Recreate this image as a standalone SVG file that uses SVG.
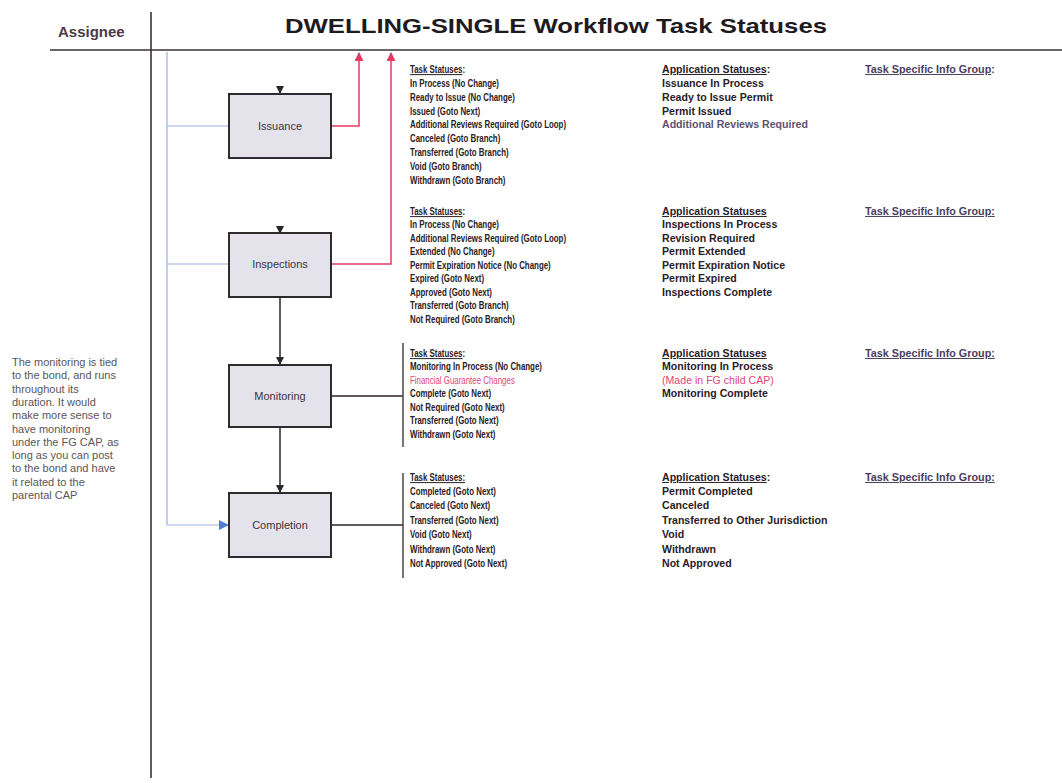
<svg xmlns="http://www.w3.org/2000/svg" width="1062" height="783" viewBox="0 0 1062 783">
<style>
.bg{fill:#ffffff}
.frame{stroke:#3a3236;stroke-width:1.6;fill:none}
.box{fill:#e4e3ec;stroke:#2f2a2e;stroke-width:2}
.blab{font-family:"Liberation Sans",Arial,sans-serif;font-size:11px;fill:#3a3440;text-anchor:middle}
.st{font-family:"Liberation Sans",Arial,sans-serif;font-size:10px;font-weight:bold;fill:#2a2026}
.ap{font-family:"Liberation Sans",Arial,sans-serif;font-size:10px;font-weight:bold;fill:#2a2026}
.hd{text-decoration:underline}
.spec{fill:#4a3e5e}
.pink{fill:#e0457c;font-weight:normal}
.dim{fill:#5e5270}
.note{font-family:"Liberation Sans",Arial,sans-serif;font-size:11px;fill:#5a555a}
.title{font-family:"Liberation Sans",Arial,sans-serif;font-size:21px;font-weight:bold;fill:#1e1a1e}
.asg{font-family:"Liberation Sans",Arial,sans-serif;font-size:15px;font-weight:bold;fill:#4a3a46}
.blk{stroke:#2b2629;stroke-width:1.5;fill:none}
.red{stroke:#e53a5e;stroke-width:1.5;fill:none}
.blue{stroke:#9bb0e0;stroke-width:1.2;fill:none}
.bar{stroke:#4a4448;stroke-width:1.5}
</style>
<defs>
<marker id="ab" markerWidth="8" markerHeight="8" refX="7" refY="4" orient="auto" markerUnits="userSpaceOnUse"><path d="M0,0 L8,4 L0,8 z" fill="#2b2629"/></marker>
<marker id="ar" markerWidth="9" markerHeight="9" refX="8" refY="4.5" orient="auto" markerUnits="userSpaceOnUse"><path d="M0,0 L9,4.5 L0,9 z" fill="#e53a5e"/></marker>
<marker id="au" markerWidth="10" markerHeight="10" refX="9" refY="5" orient="auto" markerUnits="userSpaceOnUse"><path d="M0,0 L10,5 L0,10 z" fill="#4a80d0"/></marker>
</defs>
<rect class="bg" x="0" y="0" width="1062" height="783"/>

<g id="header">
<text class="asg" x="58" y="37">Assignee</text>
<text class="title" x="285" y="33" textLength="542" lengthAdjust="spacingAndGlyphs">DWELLING-SINGLE Workflow Task Statuses</text>
<line class="frame" x1="50" y1="50" x2="1062" y2="50"/>
<line class="frame" x1="151" y1="12" x2="151" y2="778"/>
</g>

<g id="connectors">
<path class="blue" d="M167,52 V525"/>
<path class="blue" d="M167,126 H229"/>
<path class="blue" d="M167,264 H229"/>
<path class="blue" d="M167,525 H228" marker-end="url(#au)"/>
<path class="red" d="M331,126 H359 V53" marker-end="url(#ar)"/>
<path class="red" d="M331,264 H391 V53" marker-end="url(#ar)"/>
<path class="blk" d="M280,86 V93" marker-end="url(#ab)"/>
<path class="blk" d="M280,226 V233" marker-end="url(#ab)"/>
<path class="blk" d="M280,297 V364" marker-end="url(#ab)"/>
<path class="blk" d="M280,427 V492" marker-end="url(#ab)"/>
<path class="blk" d="M331,396 H403"/>
<path class="blk" d="M331,525 H403"/>
<line class="bar" x1="403" y1="343" x2="403" y2="447"/>
<line class="bar" x1="403" y1="473" x2="403" y2="578"/>
</g>

<g id="issuance">
<rect class="box" x="229" y="94" width="102" height="64"/>
<text class="blab" x="280" y="130">Issuance</text>
</g>
<g id="inspections">
<rect class="box" x="229" y="233" width="102" height="64"/>
<text class="blab" x="280" y="268">Inspections</text>
</g>
<g id="monitoring">
<rect class="box" x="229" y="365" width="102" height="62"/>
<text class="blab" x="280" y="400">Monitoring</text>
</g>
<g id="completion">
<rect class="box" x="229" y="493" width="102" height="64"/>
<text class="blab" x="280" y="529">Completion</text>
</g>

<g id="issuance-statuses">
<g transform="translate(410,0) scale(0.79,1)">
<text class="st" x="0" y="73"><tspan class="hd">Task Statuses</tspan>:</text>
<text class="st" x="0" y="87">In Process (No Change)</text>
<text class="st" x="0" y="100.8">Ready to Issue (No Change)</text>
<text class="st" x="0" y="114.6">Issued (Goto Next)</text>
<text class="st" x="0" y="128.4">Additional Reviews Required (Goto Loop)</text>
<text class="st" x="0" y="142.2">Canceled (Goto Branch)</text>
<text class="st" x="0" y="156">Transferred (Goto Branch)</text>
<text class="st" x="0" y="169.8">Void (Goto Branch)</text>
<text class="st" x="0" y="183.6">Withdrawn (Goto Branch)</text>
</g>
<g transform="translate(662,0) scale(1.06,1)">
<text class="ap" x="0" y="73"><tspan class="hd">Application Statuses</tspan>:</text>
<text class="ap" x="0" y="87">Issuance In Process</text>
<text class="ap" x="0" y="100.8">Ready to Issue Permit</text>
<text class="ap" x="0" y="114.6">Permit Issued</text>
<text class="ap dim" x="0" y="128.4">Additional Reviews Required</text>
</g>
<g transform="translate(865,0) scale(1.08,1)">
<text class="ap spec" x="0" y="73"><tspan class="hd">Task Specific Info Group</tspan>:</text>
</g>
</g>

<g id="inspections-statuses">
<g transform="translate(410,0) scale(0.79,1)">
<text class="st" x="0" y="215"><tspan class="hd">Task Statuses</tspan>:</text>
<text class="st" x="0" y="228.5">In Process (No Change)</text>
<text class="st" x="0" y="242">Additional Reviews Required (Goto Loop)</text>
<text class="st" x="0" y="255.5">Extended (No Change)</text>
<text class="st" x="0" y="269">Permit Expiration Notice (No Change)</text>
<text class="st" x="0" y="282.5">Expired (Goto Next)</text>
<text class="st" x="0" y="296">Approved (Goto Next)</text>
<text class="st" x="0" y="309.5">Transferred (Goto Branch)</text>
<text class="st" x="0" y="323">Not Required (Goto Branch)</text>
</g>
<g transform="translate(662,0) scale(1.06,1)">
<text class="ap" x="0" y="215"><tspan class="hd">Application Statuses</tspan></text>
<text class="ap" x="0" y="228.5">Inspections In Process</text>
<text class="ap" x="0" y="242">Revision Required</text>
<text class="ap" x="0" y="255.5">Permit Extended</text>
<text class="ap" x="0" y="269">Permit Expiration Notice</text>
<text class="ap" x="0" y="282.5">Permit Expired</text>
<text class="ap" x="0" y="296">Inspections Complete</text>
</g>
<g transform="translate(865,0) scale(1.08,1)">
<text class="ap spec" x="0" y="215"><tspan class="hd">Task Specific Info Group:</tspan></text>
</g>
</g>

<g id="monitoring-statuses">
<g transform="translate(410,0) scale(0.79,1)">
<text class="st" x="0" y="357"><tspan class="hd">Task Statuses</tspan>:</text>
<text class="st" x="0" y="370.5">Monitoring In Process (No Change)</text>
<text class="st pink" x="0" y="384">Financial Guarantee Changes</text>
<text class="st" x="0" y="397.5">Complete (Goto Next)</text>
<text class="st" x="0" y="411">Not Required (Goto Next)</text>
<text class="st" x="0" y="424.5">Transferred (Goto Next)</text>
<text class="st" x="0" y="438">Withdrawn (Goto Next)</text>
</g>
<g transform="translate(662,0) scale(1.06,1)">
<text class="ap" x="0" y="357"><tspan class="hd">Application Statuses</tspan></text>
<text class="ap" x="0" y="370.5">Monitoring In Process</text>
<text class="ap pink" x="0" y="384">(Made in FG child CAP)</text>
<text class="ap" x="0" y="397.5">Monitoring Complete</text>
</g>
<g transform="translate(865,0) scale(1.08,1)">
<text class="ap spec" x="0" y="357"><tspan class="hd">Task Specific Info Group:</tspan></text>
</g>
</g>

<g id="completion-statuses">
<g transform="translate(410,0) scale(0.79,1)">
<text class="st" x="0" y="481"><tspan class="hd">Task Statuses:</tspan></text>
<text class="st" x="0" y="495">Completed (Goto Next)</text>
<text class="st" x="0" y="509.4">Canceled (Goto Next)</text>
<text class="st" x="0" y="523.8">Transferred (Goto Next)</text>
<text class="st" x="0" y="538.2">Void (Goto Next)</text>
<text class="st" x="0" y="552.6">Withdrawn (Goto Next)</text>
<text class="st" x="0" y="567">Not Approved (Goto Next)</text>
</g>
<g transform="translate(662,0) scale(1.06,1)">
<text class="ap" x="0" y="481"><tspan class="hd">Application Statuses</tspan>:</text>
<text class="ap" x="0" y="495">Permit Completed</text>
<text class="ap" x="0" y="509.4">Canceled</text>
<text class="ap" x="0" y="523.8">Transferred to Other Jurisdiction</text>
<text class="ap" x="0" y="538.2">Void</text>
<text class="ap" x="0" y="552.6">Withdrawn</text>
<text class="ap" x="0" y="567">Not Approved</text>
</g>
<g transform="translate(865,0) scale(1.08,1)">
<text class="ap spec" x="0" y="481"><tspan class="hd">Task Specific Info Group:</tspan></text>
</g>
</g>

<g id="note">
<text class="note" x="12" y="366">The monitoring is tied</text>
<text class="note" x="12" y="379.3">to the bond, and runs</text>
<text class="note" x="12" y="392.6">throughout its</text>
<text class="note" x="12" y="405.9">duration.  It would</text>
<text class="note" x="12" y="419.2">make more sense to</text>
<text class="note" x="12" y="432.5">have  monitoring</text>
<text class="note" x="12" y="445.8">under the FG CAP, as</text>
<text class="note" x="12" y="459.1">long as you can post</text>
<text class="note" x="12" y="472.4">to the bond and have</text>
<text class="note" x="12" y="485.7">it related to the</text>
<text class="note" x="12" y="499">parental CAP</text>
</g>
</svg>
